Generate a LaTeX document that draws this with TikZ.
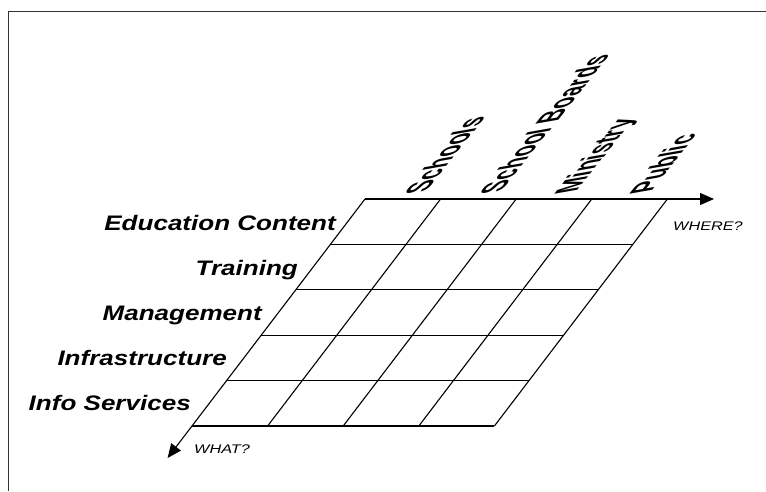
\documentclass[tikz,border=0pt]{standalone}
\usepackage{fontspec}
\setmainfont{Liberation Sans}
\newfontfamily\rowfont[FakeStretch=1.24]{Liberation Sans}
\newfontfamily\axisfont[FakeStretch=1.3]{Liberation Sans}
\usetikzlibrary{arrows.meta}
\begin{document}
\begin{tikzpicture}[x=1pt,y=-1pt,
  gridline/.style={line width=1.1pt,black},
  axisline/.style={line width=1.1pt,black,-{Triangle[length=14pt,width=12pt]}},
  rowlab/.style={anchor=base east,inner sep=0pt,font=\rowfont\bfseries\itshape\fontsize{21}{25}\selectfont},
  axislab/.style={anchor=base west,inner sep=0pt,font=\axisfont\itshape\fontsize{12.5}{15}\selectfont},
  collab/.style={anchor=base west,inner sep=0pt,font=\bfseries\fontsize{10}{12}\selectfont,
     cm={1.55,1.95,-3.35,-0.59,(0,0)}}]
\useasboundingbox (0,0) rectangle (766,491);
% frame
\coordinate (fa) at (766,11);
\coordinate (fb) at (8,11);
\coordinate (fc) at (8,491);
\draw[line width=1pt,black!80] (fa) -- (fb) -- (fc);
% grid coordinates
\foreach \r in {0,...,5}{
  \foreach \c in {0,...,4}{
    \coordinate (g-\c-\r) at ({365-34.6*\r+75.6*\c},{199+45.4*\r});
  }
}
\coordinate (whereend) at (714,199);
\coordinate (whatend) at (167.6,458);
% axes
\draw[axisline] (g-0-0) -- (whereend);
\draw[axisline] (g-0-0) -- (whatend);
% rows
\foreach \r in {1,...,5}{ \draw[gridline] (g-0-\r) -- (g-4-\r); }
% columns
\foreach \c in {1,...,4}{ \draw[gridline] (g-\c-0) -- (g-\c-5); }
% row labels
\node[rowlab] (l1) at (336,230.5) {Education Content};
\node[rowlab] (l2) at (298,275) {Training};
\node[rowlab] (l3) at (262,320.5) {Management};
\node[rowlab] (l4) at (227,365.5) {Infrastructure};
\node[rowlab] (l5) at (191,410.5) {Info Services};
% axis labels
\node[axislab] (where) at (673,230) {WHERE?};
\node[axislab] (what) at (194,453) {WHAT?};
% column labels
\node[collab] (c1) at (426,192) {Schools};
\node[collab] (c2) at (501,192) {School Boards};
\node[collab] (c3) at (576,192) {Ministry};
\node[collab] (c4) at (651,192) {Public};
\end{tikzpicture}
\end{document}
